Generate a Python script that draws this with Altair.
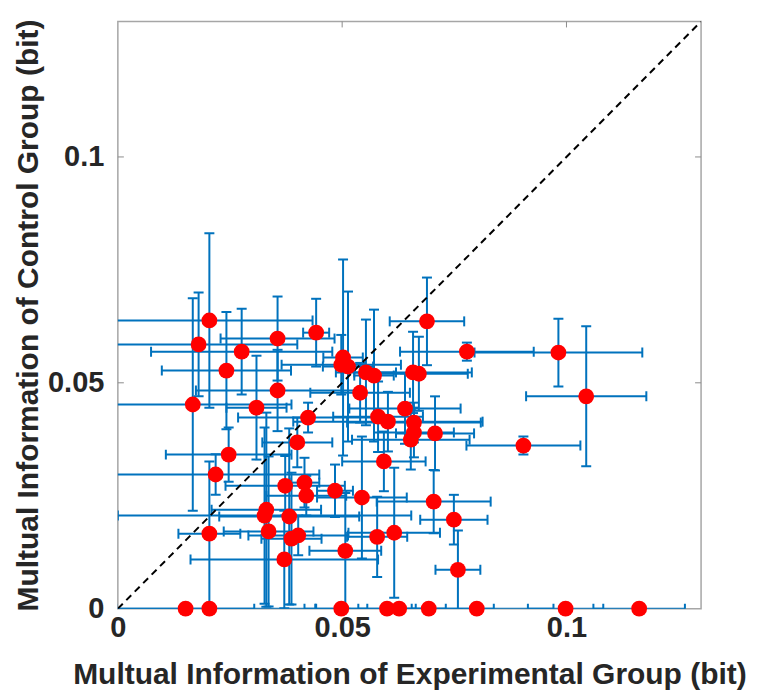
import altair as alt
import pandas as pd

# Data
x_vals = [0.0204, 0.0180, 0.0276, 0.0356, 0.0442, 0.0242, 0.0356, 0.0167, 0.0309, 0.0247,
          0.0218, 0.0400, 0.0424, 0.0502, 0.0498, 0.0513, 0.0553, 0.0571, 0.0540, 0.0689,
          0.0778, 0.0658, 0.0671, 0.0640, 0.0580, 0.0602, 0.0660, 0.0660, 0.0653, 0.0707,
          0.0904, 0.0982, 0.1044, 0.0593, 0.0373, 0.0416, 0.0420, 0.0484, 0.0544, 0.0331,
          0.0327, 0.0382, 0.0204, 0.0336, 0.0387, 0.0402, 0.0578, 0.0616, 0.0371, 0.0507,
          0.0704, 0.0749, 0.0758,
          0.0151, 0.0204, 0.0498, 0.0600, 0.0627, 0.0693, 0.0800, 0.0998, 0.1162]
y_vals = [0.0638, 0.0585, 0.0569, 0.0598, 0.0611, 0.0527, 0.0483, 0.0452, 0.0445, 0.0341,
          0.0297, 0.0368, 0.0423, 0.0556, 0.0540, 0.0536, 0.0523, 0.0516, 0.0478, 0.0636,
          0.0569, 0.0523, 0.0520, 0.0443, 0.0425, 0.0414, 0.0412, 0.0390, 0.0374, 0.0388,
          0.0361, 0.0567, 0.0470, 0.0326, 0.0272, 0.0279, 0.0250, 0.0261, 0.0246, 0.0219,
          0.0206, 0.0204, 0.0166, 0.0171, 0.0155, 0.0162, 0.0159, 0.0168, 0.0109, 0.0128,
          0.0237, 0.0197, 0.0086,
          0.0, 0.0, 0.0, 0.0, 0.0, 0.0, 0.0, 0.0, 0.0]
x_err = [0.0230, 0.0220, 0.0202, 0.0127, 0.0029, 0.0144, 0.0182, 0.0220, 0.0067, 0.0140,
         0.0231, 0.0078, 0.0156, 0.0044, 0.0133, 0.0056, 0.0067, 0.0044, 0.0111, 0.0083,
         0.0149, 0.0131, 0.0109, 0.0124, 0.0100, 0.0211, 0.0149, 0.0089, 0.0131, 0.0087,
         0.0127, 0.0187, 0.0134, 0.0093, 0.0133, 0.0033, 0.0089, 0.0040, 0.0100, 0.0122,
         0.0327, 0.0156, 0.0069, 0.0100, 0.0067, 0.0111, 0.0067, 0.0102, 0.0209, 0.0080,
         0.0127, 0.0075, 0.0050,
         0.0153, 0.0238, 0.0058, 0.0064, 0.0211, 0.0038, 0.0171, 0.0084, 0.0102]
y_err = [0.0193, 0.0115, 0.0095, 0.0093, 0.0075, 0.0130, 0.0090, 0.0235, 0.0115, 0.0060,
         0.0045, 0.0055, 0.0033, 0.0217, 0.0066, 0.0166, 0.0117, 0.0146, 0.0066, 0.0097,
         0.0020, 0.0090, 0.0082, 0.0078, 0.0078, 0.0066, 0.0044, 0.0055, 0.0066, 0.0082,
         0.0020, 0.0075, 0.0155, 0.0066, 0.0066, 0.0055, 0.0044, 0.0058, 0.0135, 0.0215,
         0.0195, 0.0195, 0.0160, 0.0166, 0.0146, 0.0044, 0.0089, 0.0144, 0.0108, 0.0128,
         0.0070, 0.0055, 0.0087,
         0.0, 0.0, 0.0, 0.0, 0.0, 0.0, 0.0, 0.0, 0.0]
tick_values = [0.05, 0.1]
axis_values = [0, 0.05, 0.1]
diag_vals = [0, 0.13]
x_title = "Multual Information of Experimental Group (bit)"
y_title = "Multual Information of Control Group (bit)"

df = pd.DataFrame({"x": x_vals, "y": y_vals, "xe": x_err, "ye": y_err})
df["xlo"] = df["x"] - df["xe"]
df["xhi"] = df["x"] + df["xe"]
df["ylo"] = df["y"] - df["ye"]
df["yhi"] = df["y"] + df["ye"]

W, H = 584, 588
BLUE = "#0072BD"
xs = alt.Scale(domain=[0, 0.13], nice=False)
ys = alt.Scale(domain=[0, 0.13], nice=False)
xaxis = alt.Axis(values=axis_values, format=".2~f", title=x_title, grid=False,
                 ticks=False, domain=False, labelPadding=5, titlePadding=17,
                 labelFlush=False, titleFontSize=30)
yaxis = alt.Axis(values=axis_values, format=".2~f", title=y_title, grid=False,
                 ticks=False, domain=False, labelPadding=14, titlePadding=4,
                 labelFlush=False, titleFontSize=30)


def X(f):
    return alt.X(f, type="quantitative", scale=xs, axis=xaxis)


def Y(f):
    return alt.Y(f, type="quantitative", scale=ys, axis=yaxis)


base = alt.Chart(df)
hbar = base.mark_rule(color=BLUE, strokeWidth=2, clip=True).encode(x=X("xlo"), x2="xhi", y=Y("y"))
vbar = base.mark_rule(color=BLUE, strokeWidth=2, clip=True).encode(x=X("x"), y=Y("ylo"), y2="yhi")
cap_l = base.mark_tick(orient="vertical", size=10, thickness=2, color=BLUE, opacity=1, clip=True).encode(x=X("xlo"), y=Y("y"))
cap_r = base.mark_tick(orient="vertical", size=10, thickness=2, color=BLUE, opacity=1, clip=True).encode(x=X("xhi"), y=Y("y"))
cap_b = base.mark_tick(orient="horizontal", size=10, thickness=2, color=BLUE, opacity=1, clip=True).encode(x=X("x"), y=Y("ylo"))
cap_t = base.mark_tick(orient="horizontal", size=10, thickness=2, color=BLUE, opacity=1, clip=True).encode(x=X("x"), y=Y("yhi"))
dots = base.mark_circle(size=250, color="#FF0000", opacity=1).encode(x=X("x"), y=Y("y"))

diag = alt.Chart(pd.DataFrame({"d": diag_vals})).mark_line(
    color="black", strokeDash=[7, 5], strokeWidth=2, clip=True).encode(x=X("d"), y=Y("d"))

tdf = pd.DataFrame({"t": tick_values})
TICK = "#8c8c8c"
tick_b = alt.Chart(tdf).mark_rule(color=TICK, strokeWidth=1).encode(x=X("t"), y=alt.value(H), y2=alt.value(H - 6))
tick_t = alt.Chart(tdf).mark_rule(color=TICK, strokeWidth=1).encode(x=X("t"), y=alt.value(0), y2=alt.value(6))
tick_l = alt.Chart(tdf).mark_rule(color=TICK, strokeWidth=1).encode(y=Y("t"), x=alt.value(0), x2=alt.value(6))
tick_r = alt.Chart(tdf).mark_rule(color=TICK, strokeWidth=1).encode(y=Y("t"), x=alt.value(W), x2=alt.value(W - 6))

chart = alt.layer(
    tick_b, tick_t, tick_l, tick_r, hbar, vbar, cap_l, cap_r, cap_b, cap_t, diag, dots
).properties(
    width=W, height=H, padding={"left": 5, "top": 10, "right": 5, "bottom": 2}
).configure_view(
    stroke="#a6a6a6", strokeWidth=1.5
).configure_axis(
    labelFont="Liberation Sans", labelFontWeight="bold", labelFontSize=29, labelColor="#262626",
    titleFont="Liberation Sans", titleFontWeight="bold", titleFontSize=29, titleColor="#262626"
)

chart.save("out.html", embed_options={"renderer": "svg", "actions": False})
